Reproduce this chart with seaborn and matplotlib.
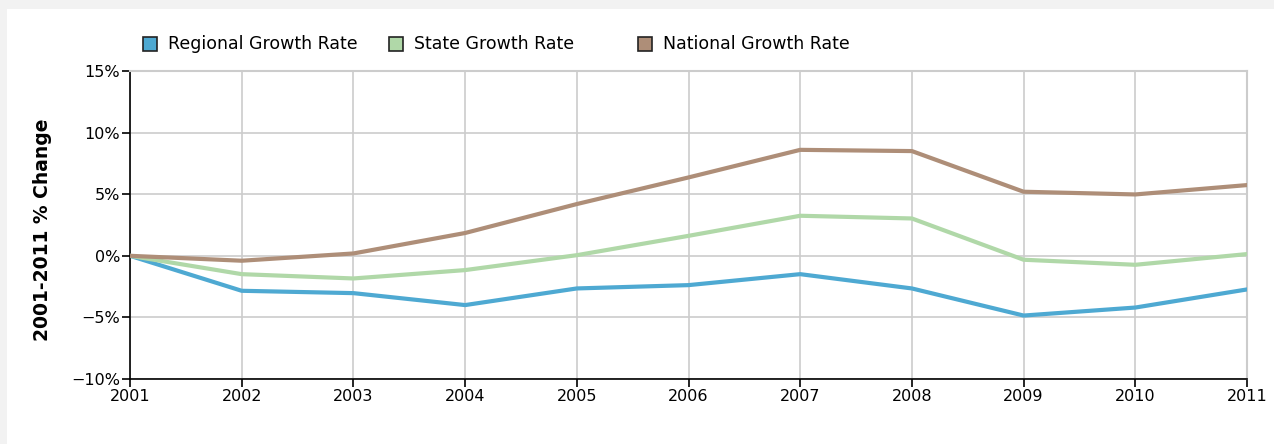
import matplotlib
matplotlib.use("Agg")
import matplotlib.pyplot as plt
import matplotlib.patches as mpatches
import seaborn as sns
import pandas as pd

years = [2001, 2002, 2003, 2004, 2005, 2006, 2007, 2008, 2009, 2010, 2011]
regional = [0.0, -2.84, -3.03, -4.0, -2.65, -2.38, -1.49, -2.65, -4.85, -4.2, -2.73]
state = [0.0, -1.49, -1.84, -1.16, 0.05, 1.62, 3.25, 3.03, -0.32, -0.73, 0.14]
national = [0.0, -0.4, 0.19, 1.85, 4.2, 6.36, 8.6, 8.5, 5.2, 4.98, 5.74]
series_names = ["Regional Growth Rate", "State Growth Rate", "National Growth Rate"]
colors = ["#4ea9d2", "#b0d8a8", "#ae8e78"]
y_ticks = [-10, -5, 0, 5, 10, 15]
y_label = "2001-2011 % Change"

df = pd.DataFrame({
    "year": years * 3,
    "value": regional + state + national,
    "series": [series_names[0]] * len(years) + [series_names[1]] * len(years) + [series_names[2]] * len(years),
})

sns.set_style("white")
plt.rcParams["font.family"] = ["DejaVu Sans"]
plt.rcParams["text.color"] = "black"
plt.rcParams["axes.labelcolor"] = "black"
plt.rcParams["xtick.color"] = "black"
plt.rcParams["ytick.color"] = "black"

W, H = 1274, 444
fig = plt.figure(figsize=(W / 100, H / 100), dpi=100, facecolor="#f2f2f2")
# white panel
fig.patches.append(mpatches.Rectangle((7 / W, 0), 1, 1 - 9 / H, transform=fig.transFigure,
                                      facecolor="white", edgecolor="none", zorder=-10))

ax = fig.add_axes([130 / W, 1 - 379 / H, (1247 - 130) / W, (379 - 71) / H])
ax.set_facecolor("white")

sns.lineplot(data=df, x="year", y="value", hue="series", palette=colors,
             hue_order=series_names, linewidth=3.0, ax=ax, legend=False, zorder=3)

ax.set_xlim(2001, 2011)
ax.set_ylim(-10, 15)
ax.set_xticks(years)
ax.set_xticklabels([str(y) for y in years], fontsize=11.5)
ax.set_yticks(y_ticks)
ax.set_yticklabels([("\u2212" + str(abs(v)) if v < 0 else str(v)) + "%" for v in y_ticks], fontsize=11.5)
ax.grid(True, color="#cccccc", linewidth=1.2, zorder=0)
ax.set_axisbelow(True)
for s in ["top", "right"]:
    ax.spines[s].set_color("#cccccc")
    ax.spines[s].set_linewidth(1.5)
for s in ["left", "bottom"]:
    ax.spines[s].set_color("black")
    ax.spines[s].set_linewidth(1.2)
ax.tick_params(axis="both", which="both", direction="out", length=6, width=1.2,
               color="black", pad=1, left=True, bottom=True)
ax.set_xlabel("")
ax.set_ylabel(y_label, fontsize=13.5, fontweight="bold", color="black")
ax.yaxis.set_label_coords(-78 / (1247 - 130), 0.485)

# legend
leg_x = [150, 396, 645]
leg_y = 44
for name, col, lx in zip(series_names, colors, leg_x):
    fig.patches.append(mpatches.Rectangle(((lx - 7) / W, 1 - (leg_y + 7) / H), 14 / W, 14 / H,
                                          transform=fig.transFigure, facecolor=col,
                                          edgecolor="#222222", linewidth=1.2))
    fig.text((lx + 18) / W, 1 - leg_y / H, name, fontsize=12.5, va="center", ha="left")

fig.savefig("out.png", dpi=100, facecolor=fig.get_facecolor())
